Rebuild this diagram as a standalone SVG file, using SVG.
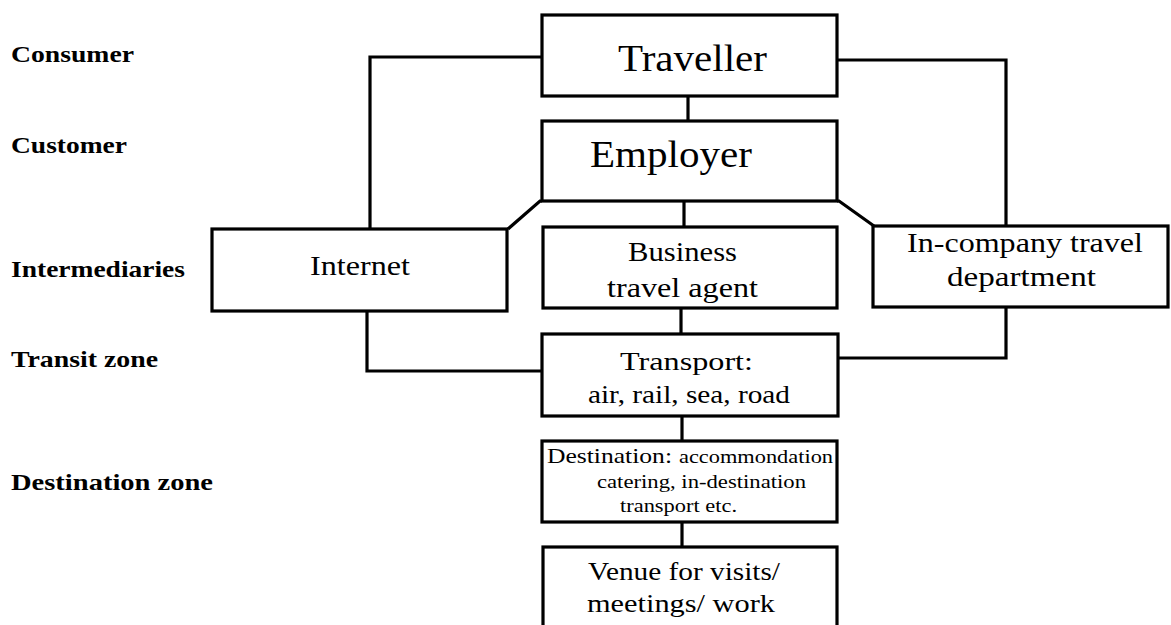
<svg xmlns="http://www.w3.org/2000/svg" width="1171" height="625" viewBox="0 0 1171 625">
<style>
.box{fill:#fff;stroke:#000;stroke-width:3.2}
.ln{fill:none;stroke:#000;stroke-width:3.2;stroke-linejoin:miter}
.t{font-family:"Liberation Serif",serif;fill:#000}
.lbl{font-family:"Liberation Serif",serif;font-weight:bold;font-size:24px;fill:#000}
</style>
<rect width="1171" height="625" fill="#fff"/>
<g id="connectors">
<polyline class="ln" points="542,57 370,57 370,229"/>
<polyline class="ln" points="837,60 1006,60 1006,226"/>
<line class="ln" x1="688" y1="96" x2="688" y2="121"/>
<polyline class="ln" points="542,201 540,201 508,229"/>
<polyline class="ln" points="837,201 839,201 874,226"/>
<line class="ln" x1="684" y1="201" x2="684" y2="227"/>
<polyline class="ln" points="367,311 367,371 542,371"/>
<polyline class="ln" points="1006,307 1006,358 838,358"/>
<line class="ln" x1="681" y1="308" x2="681" y2="334"/>
<line class="ln" x1="682" y1="416" x2="682" y2="441"/>
<line class="ln" x1="682" y1="522" x2="682" y2="547"/>
</g>
<g id="labels">
<text class="lbl" x="11" y="62" textLength="123" lengthAdjust="spacingAndGlyphs">Consumer</text>
<text class="lbl" x="11" y="153" textLength="116" lengthAdjust="spacingAndGlyphs">Customer</text>
<text class="lbl" x="11" y="277" textLength="174" lengthAdjust="spacingAndGlyphs">Intermediaries</text>
<text class="lbl" x="11" y="367" textLength="147" lengthAdjust="spacingAndGlyphs">Transit zone</text>
<text class="lbl" x="11" y="490" textLength="202" lengthAdjust="spacingAndGlyphs">Destination zone</text>
</g>
<g id="traveller">
<rect class="box" x="542" y="15" width="295" height="81"/>
<text class="t" x="618" y="71" font-size="38" textLength="149" lengthAdjust="spacingAndGlyphs">Traveller</text>
</g>
<g id="employer">
<rect class="box" x="542" y="121" width="295" height="80"/>
<text class="t" x="590" y="167" font-size="38" textLength="162" lengthAdjust="spacingAndGlyphs">Employer</text>
</g>
<g id="internet">
<rect class="box" x="212" y="229" width="295" height="82"/>
<text class="t" x="310" y="275" font-size="28" textLength="100" lengthAdjust="spacingAndGlyphs">Internet</text>
</g>
<g id="agent">
<rect class="box" x="543" y="227" width="294" height="81"/>
<text class="t" x="628" y="261" font-size="28" textLength="109" lengthAdjust="spacingAndGlyphs">Business</text>
<text class="t" x="607" y="297" font-size="28" textLength="151" lengthAdjust="spacingAndGlyphs">travel agent</text>
</g>
<g id="incompany">
<rect class="box" x="873" y="226" width="295" height="81"/>
<text class="t" x="907" y="252" font-size="28" textLength="236" lengthAdjust="spacingAndGlyphs">In-company travel</text>
<text class="t" x="947" y="286" font-size="28" textLength="149" lengthAdjust="spacingAndGlyphs">department</text>
</g>
<g id="transport">
<rect class="box" x="542" y="334" width="296" height="82"/>
<text class="t" x="620" y="370" font-size="26" textLength="133" lengthAdjust="spacingAndGlyphs">Transport:</text>
<text class="t" x="588" y="403" font-size="26" textLength="202" lengthAdjust="spacingAndGlyphs">air, rail, sea, road</text>
</g>
<g id="destination">
<rect class="box" x="542" y="441" width="295" height="81"/>
<text class="t" x="547" y="463" font-size="21" textLength="125" lengthAdjust="spacingAndGlyphs">Destination:</text>
<text class="t" x="679" y="463" font-size="18" textLength="154" lengthAdjust="spacingAndGlyphs">accommondation</text>
<text class="t" x="597" y="488" font-size="18" textLength="209" lengthAdjust="spacingAndGlyphs">catering, in-destination</text>
<text class="t" x="620" y="512" font-size="18" textLength="117" lengthAdjust="spacingAndGlyphs">transport etc.</text>
</g>
<g id="venue">
<rect class="box" x="543" y="547" width="294" height="100"/>
<text class="t" x="588" y="580" font-size="26" textLength="192" lengthAdjust="spacingAndGlyphs">Venue for visits/</text>
<text class="t" x="587" y="612" font-size="26" textLength="188" lengthAdjust="spacingAndGlyphs">meetings/ work</text>
</g>
</svg>
